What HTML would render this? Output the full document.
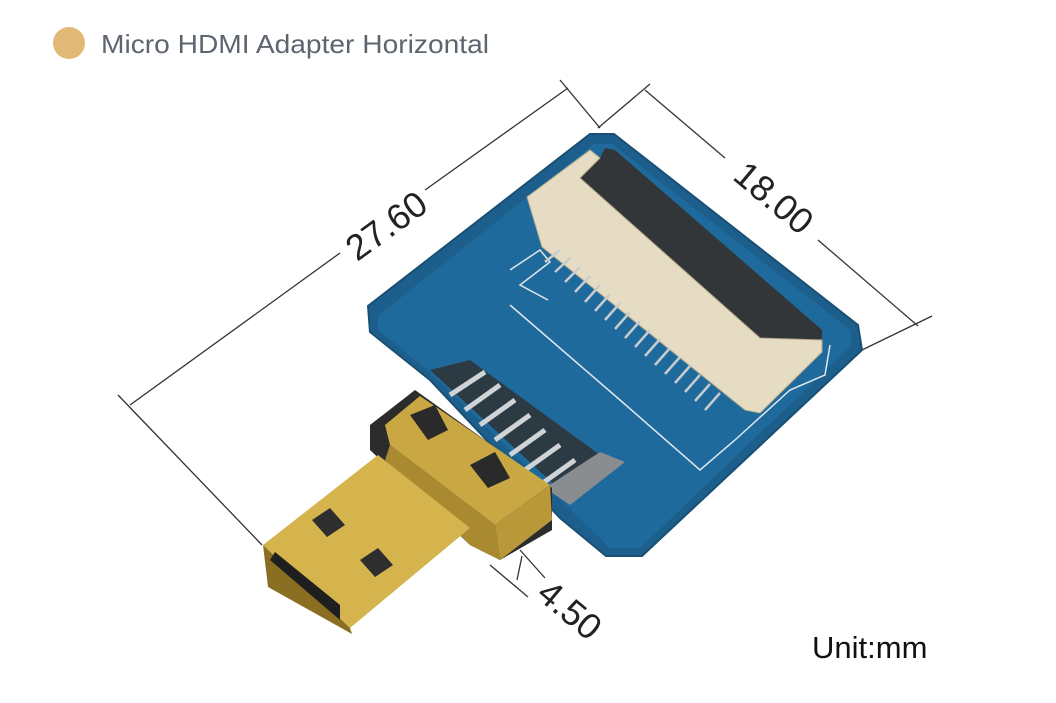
<!DOCTYPE html>
<html><head><style>
body{margin:0;background:#fff;width:1056px;height:698px;overflow:hidden;font-family:"Liberation Sans",sans-serif}
</style></head><body>
<svg width="1056" height="698" viewBox="0 0 1056 698" xmlns="http://www.w3.org/2000/svg">
<rect width="1056" height="698" fill="#fff"/>
<circle cx="69" cy="43" r="16" fill="#e2b877"/>
<text x="101" y="53" font-size="26" fill="#5d6670" textLength="388" lengthAdjust="spacingAndGlyphs" font-family="Liberation Sans, sans-serif">Micro HDMI Adapter Horizontal</text>
<!-- dimension lines -->
<g stroke="#333" stroke-width="1.3" fill="none">
<line x1="130" y1="405" x2="340" y2="253"/>
<line x1="425" y1="190" x2="568" y2="88"/>
<line x1="118" y1="395" x2="262" y2="545"/>
<line x1="560" y1="80" x2="600" y2="128"/>
<line x1="645" y1="90" x2="725" y2="158"/>
<line x1="818" y1="240" x2="918" y2="326"/>
<line x1="650" y1="84" x2="598" y2="128"/>
<line x1="932" y1="316" x2="862" y2="350"/>
<line x1="520" y1="550" x2="545" y2="578"/>
<line x1="490" y1="565" x2="528" y2="597"/>
<line x1="522" y1="556" x2="517" y2="580"/>
</g>
<text x="0" y="0" font-size="36" fill="#222" transform="translate(388,228) rotate(-36)" text-anchor="middle" dominant-baseline="middle">27.60</text>
<text x="0" y="0" font-size="36" fill="#222" transform="translate(772,200) rotate(40)" text-anchor="middle" dominant-baseline="middle">18.00</text>
<text x="0" y="0" font-size="36" fill="#222" transform="translate(568,612) rotate(40)" text-anchor="middle" dominant-baseline="middle">4.50</text>
<text x="812" y="658" font-size="31" fill="#111">Unit:mm</text>
<!-- PCB -->
<polygon points="590,134 614,134 858,325 862,350 642,556 606,556 560,518 430,380 370,332 368,306" fill="#1d5f8c" stroke="#1a4f74" stroke-width="2"/>
<polygon points="378,316 594,144 612,144 850,330 852,345 640,548 610,548 430,372 378,330" fill="#1f6a9c"/>
<g stroke="#dfe8ee" stroke-width="1.5" fill="none">
<polyline points="510,270 540,250 550,262 520,285 548,300"/>
<polyline points="510,305 620,400 700,470 735,440 790,390 825,375 830,345"/>
</g>
<!-- connector -->
<polygon points="580,178 600,158 605,148 615,150 822,330 822,342 760,338" fill="#333638"/>
<polygon points="527,197 590,150 600,158 580,178 760,338 822,340 822,352 760,413 745,410 542,247" fill="#e6dcc3" stroke="#b7aa8c"/>
<g stroke="#c9cccf" stroke-width="2.5">
<line x1="545" y1="262" x2="560" y2="250"/><line x1="555" y1="272" x2="570" y2="258"/>
<line x1="565" y1="282" x2="580" y2="267"/><line x1="575" y1="292" x2="590" y2="276"/>
<line x1="585" y1="302" x2="600" y2="285"/><line x1="595" y1="311" x2="610" y2="294"/>
<line x1="605" y1="320" x2="620" y2="303"/><line x1="615" y1="329" x2="630" y2="312"/>
<line x1="625" y1="338" x2="640" y2="321"/><line x1="635" y1="347" x2="650" y2="330"/>
<line x1="645" y1="356" x2="660" y2="339"/><line x1="655" y1="365" x2="670" y2="348"/>
<line x1="665" y1="374" x2="680" y2="357"/><line x1="675" y1="383" x2="690" y2="366"/>
<line x1="685" y1="392" x2="700" y2="375"/><line x1="695" y1="401" x2="710" y2="384"/>
<line x1="705" y1="410" x2="720" y2="393"/>
</g>
<!-- pins -->
<polygon points="430,370 470,360 600,455 560,490" fill="#2c3a44"/>
<g stroke="#d0d4d6" stroke-width="5">
<line x1="450" y1="395" x2="485" y2="372"/><line x1="465" y1="410" x2="500" y2="385"/>
<line x1="480" y1="425" x2="515" y2="400"/><line x1="495" y1="440" x2="530" y2="415"/>
<line x1="510" y1="455" x2="545" y2="430"/><line x1="525" y1="470" x2="560" y2="445"/>
<line x1="540" y1="485" x2="575" y2="460"/>
</g>
<polygon points="545,488 600,452 625,462 570,505" fill="#8a8d90"/>
<!-- plug shell -->
<polygon points="370,425 415,390 552,488 552,530 500,560 470,545 370,450" fill="#2c2c2c"/>
<polygon points="385,425 420,396 550,485 495,525 390,445" fill="#c9a844"/>
<polygon points="390,445 495,525 500,560 470,545 385,460" fill="#a98a30"/>
<polygon points="495,525 550,485 552,520 500,560" fill="#b89838"/>
<polygon points="410,415 435,405 448,430 428,440" fill="#2a2a2a"/>
<polygon points="470,465 495,452 510,478 488,488" fill="#2a2a2a"/>
<!-- plug tongue -->
<polygon points="263,545 378,455 470,528 350,628" fill="#d5b44e"/>
<polygon points="263,545 350,628 352,634 268,587" fill="#8a6f22"/>
<polygon points="270,560 340,620 340,605 275,552" fill="#1f1f1f"/>
<polygon points="312,520 330,508 345,525 327,537" fill="#2e2e2e"/>
<polygon points="360,560 378,548 393,565 375,577" fill="#2e2e2e"/>
</svg>
</body></html>
